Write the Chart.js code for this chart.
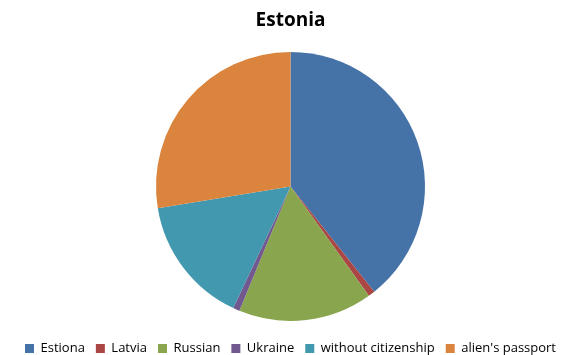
<!DOCTYPE html>
<html>
<head>
<meta charset="utf-8">
<script src="https://cdn.jsdelivr.net/npm/chart.js@4/dist/chart.umd.min.js"></script>
<style>
  html, body { margin: 0; padding: 0; background: #fff; }
  #wrap { width: 572px; height: 355px; }
</style>
</head>
<body>
<div id="wrap"><canvas id="pie"></canvas></div>
<script>
// citizenship shares, percent
const categories = ["Estiona", "Latvia", "Russian", "Ukraine", "without citizenship", "alien's passport"];
const shares = [39.3, 0.8, 16.1, 0.8, 15.4, 27.6];
const colors = ["#4572A7", "#AA4643", "#89A54E", "#71588F", "#4198AF", "#DB843D"];

new Chart(document.getElementById("pie"), {
  type: "pie",
  data: {
    labels: categories,
    datasets: [{
      data: shares,
      backgroundColor: colors,
      borderWidth: 0,
      radius: 134.5,
    }],
  },
  options: {
    responsive: true,
    maintainAspectRatio: false,
    animation: false,
    layout: {
      padding: { top: 5, bottom: -10, left: 9, right: 0 },
    },
    plugins: {
      title: {
        display: true,
        text: "Estonia",
        color: "#000",
        font: { family: "Open Sans", size: 19, weight: "bold" },
        padding: { top: 4, bottom: 10 },
      },
      legend: {
        position: "bottom",
        labels: {
          color: "#000",
          boxWidth: 9,
          boxHeight: 9,
          padding: 11,
          font: { family: "Open Sans", size: 13 },
        },
      },
      tooltip: { enabled: false },
    },
  },
});
</script>
</body>
</html>
